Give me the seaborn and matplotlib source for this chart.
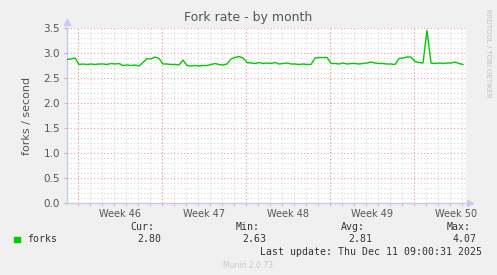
import numpy as np
import pandas as pd
import matplotlib
matplotlib.use("Agg")
import matplotlib.pyplot as plt
import seaborn as sns
from matplotlib.ticker import MultipleLocator, FixedLocator

# ---- data ----
title = "Fork rate - by month"
ylabel = "forks / second"
series_name = "forks"
week_labels = ["Week 46", "Week 47", "Week 48", "Week 49", "Week 50"]
forks = [2.87, 2.88, 2.90, 2.77, 2.78, 2.77, 2.78, 2.77, 2.78, 2.78,
         2.77, 2.79, 2.78, 2.79, 2.75, 2.76, 2.75, 2.76, 2.74, 2.81,
         2.89, 2.88, 2.92, 2.89, 2.78, 2.78, 2.77, 2.77, 2.76, 2.86,
         2.75, 2.74, 2.75, 2.74, 2.75, 2.75, 2.77, 2.79, 2.77, 2.76,
         2.78, 2.88, 2.91, 2.93, 2.90, 2.81, 2.80, 2.79, 2.81, 2.79,
         2.80, 2.79, 2.81, 2.78, 2.79, 2.80, 2.78, 2.78, 2.77, 2.78,
         2.77, 2.77, 2.90, 2.91, 2.91, 2.91, 2.79, 2.79, 2.78, 2.80,
         2.78, 2.79, 2.79, 2.78, 2.79, 2.80, 2.82, 2.80, 2.79, 2.79,
         2.78, 2.78, 2.77, 2.89, 2.90, 2.92, 2.92, 2.83, 2.81, 2.80,
         3.45, 2.80, 2.79, 2.80, 2.79, 2.80, 2.80, 2.82, 2.79, 2.77]
stat_names = ["Cur:", "Min:", "Avg:", "Max:"]
stat_values = ["2.80", "2.63", "2.81", "4.07"]
last_update = "Last update: Thu Dec 11 09:00:31 2025"
footer = "Munin 2.0.73"
side_text = "RRDTOOL / TOBI OETIKER"

sample_step = 1.0 / 3.0      # days per sample
first_week_start = 0.917     # day offset of first week boundary
x_end = 33.25

df = pd.DataFrame({"day": np.arange(len(forks)) * sample_step, "value": forks})

W, H = 497, 275
BG = "#F0F0F0"
fig = plt.figure(figsize=(W / 100, H / 100), dpi=100, facecolor=BG)
ax = fig.add_axes([67 / W, 1 - 203 / H, (466 - 67) / W, (203 - 28) / H])
ax.set_facecolor("white")

sns.lineplot(data=df, x="day", y="value", ax=ax, color="#00CC00", linewidth=1.0, zorder=5)

ax.set_xlim(0, x_end)
ax.set_ylim(0, 3.5)

# y grid
ax.yaxis.set_major_locator(MultipleLocator(0.5))
ax.yaxis.set_minor_locator(MultipleLocator(0.1))
ax.grid(False)
ax.grid(which="minor", axis="y", color="#D8D8D8", linestyle=(0, (1, 2)), linewidth=0.8)
ax.grid(which="major", axis="y", color="#E8A0A0", linestyle=(0, (1, 2)), linewidth=0.8)
ax.set_axisbelow(True)

# x grid: days minor, weeks major
day_lines = np.arange(first_week_start - 7, x_end, 1.0)
day_lines = day_lines[day_lines > 0]
week_lines = np.arange(first_week_start, x_end, 7.0)
ax.xaxis.set_minor_locator(FixedLocator(day_lines))
ax.grid(which="minor", axis="x", color="#D8D8D8", linestyle=(0, (1, 2)), linewidth=0.8)
for wl in week_lines:
    ax.axvline(wl, color="#E8A0A0", linestyle=(0, (1, 2)), linewidth=0.8, zorder=1)
mids = week_lines + 3.5
ax.set_xticks(mids[:len(week_labels)], week_labels)
ax.tick_params(axis="x", which="major", length=0, pad=4, labelsize=7, labelcolor="#555555")
ax.tick_params(axis="x", which="minor", length=2, color="#E8A0A0")
ax.tick_params(axis="y", which="major", length=2, color="#E8A0A0", labelsize=7.5, labelcolor="#555555", pad=3)
ax.tick_params(axis="y", which="minor", length=0)

ax.set_xlabel("")
ax.set_ylabel(ylabel, fontsize=8, color="#555555", labelpad=8)

for s in ["top", "right"]:
    ax.spines[s].set_visible(False)
for s in ["left", "bottom"]:
    ax.spines[s].set_color("#C8C8F0")
    ax.spines[s].set_linewidth(1.0)
ax.plot([0], [1.035], marker="^", color="#C8C8F0", markersize=4, transform=ax.transAxes, clip_on=False)
ax.plot([1.01], [0], marker=">", color="#C8C8F0", markersize=4, transform=ax.transAxes, clip_on=False)

fig.text(248 / W, 1 - 18 / H, title, ha="center", va="center", fontsize=9, color="#555555")
fig.text(488 / W, 1 - 53 / H, side_text, ha="center", va="center", rotation=270,
         fontsize=5, color="#C0C0C0")

mono = "DejaVu Sans Mono"
fs = 7.1
fig.patches.append(plt.Rectangle((14 / W, 1 - 242 / H), 6 / W, 5 / H, color="#00CC00",
                                 transform=fig.transFigure, figure=fig))
fig.text(27 / W, 1 - 239 / H, series_name, ha="left", va="center", fontsize=fs,
         family=mono, color="#333333")
name_right = [154, 260, 365, 471]
val_right = [161, 266, 372, 477]
for n, v, nr, vr in zip(stat_names, stat_values, name_right, val_right):
    fig.text(nr / W, 1 - 227 / H, n, ha="right", va="center", fontsize=fs, family=mono, color="#333333")
    fig.text(vr / W, 1 - 239 / H, v, ha="right", va="center", fontsize=fs, family=mono, color="#333333")
fig.text(482 / W, 1 - 252 / H, last_update, ha="right", va="center", fontsize=fs,
         family=mono, color="#333333")
fig.text(248 / W, 1 - 265 / H, footer, ha="center", va="center", fontsize=5.5, color="#C8C8C8")

fig.savefig("out.png", dpi=100, facecolor=BG)
